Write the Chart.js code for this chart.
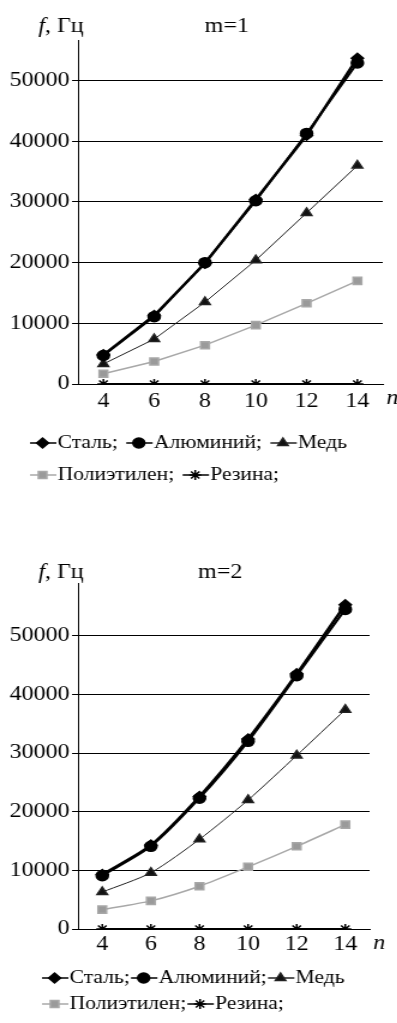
<!DOCTYPE html>
<html>
<head>
<meta charset="utf-8">
<script src="https://cdn.jsdelivr.net/npm/chart.js@4"></script>
<style>
  body { margin: 0; background: #fff; overflow: hidden; }
  .wrap { width: 331px; position: relative; transform: scaleX(1.2); transform-origin: 0 0; }
</style>
</head>
<body>
<div class="wrap" style="height:505px"><canvas id="chartM1"></canvas></div>
<div class="wrap" style="height:518px"><canvas id="chartM2"></canvas></div>
<script>
// n values on the x axis
const nLabels = ['4', '6', '8', '10', '12', '14'];
const yTicks = [0, 10000, 20000, 30000, 40000, 50000];
const seriesNames = ['Сталь;', 'Алюминий;', 'Медь', 'Полиэтилен;', 'Резина;'];

// m = 1
const steelM1 = [4800, 11300, 19900, 30400, 41000, 53700];
const alumM1 = [4700, 11100, 20000, 30200, 41300, 52900];
const copperM1 = [3300, 7400, 13500, 20400, 28200, 36000];
const polyM1 = [1700, 3700, 6400, 9700, 13300, 17000];
const rubberM1 = [0, 0, 0, 0, 0, 0];

// m = 2
const steelM2 = [9300, 14300, 22600, 32400, 43500, 55300];
const alumM2 = [9100, 14100, 22300, 32000, 43200, 54500];
const copperM2 = [6300, 9600, 15300, 22000, 29600, 37400];
const polyM2 = [3300, 4800, 7300, 10600, 14100, 17800];
const rubberM2 = [0, 0, 0, 0, 0, 0];

const SERIF = '"Liberation Serif", "Times New Roman", serif';

// nudge the legend to the right, and draw the short line through each marker
const legendLines = {
    id: 'legendLines',
    afterLayout(chart, args, opts) {
        if (!chart.legend) return;
        chart.legend.left += opts.dx;
        chart.legend.right += opts.dx;
    },
    beforeDraw(chart) {
        const lg = chart.legend;
        if (!lg || !lg.legendHitBoxes) return;
        const ctx = chart.ctx;
        ctx.save();
        lg.legendHitBoxes.forEach((hb, i) => {
            const item = lg.legendItems[i];
            const y = hb.top + hb.height / 2;
            ctx.strokeStyle = item.strokeStyle;
            ctx.lineWidth = 1.5;
            ctx.beginPath();
            ctx.moveTo(hb.left - 7, y);
            ctx.lineTo(hb.left + 15, y);
            ctx.stroke();
        });
        ctx.restore();
    }
};

// axis captions and the m=... heading
const captions = {
    id: 'captions',
    afterDraw(chart, args, opts) {
        const { ctx, chartArea: a } = chart;
        ctx.save();
        ctx.fillStyle = '#000';
        ctx.textBaseline = 'middle';
        const ty = a.top + opts.dy;
        ctx.font = 'italic 20px ' + SERIF;
        ctx.textAlign = 'left';
        const fx = a.left - 33;
        ctx.fillText('f', fx, ty);
        const fw = ctx.measureText('f').width;
        ctx.font = '20px ' + SERIF;
        ctx.fillText(', Гц', fx + fw, ty);
        ctx.textAlign = 'center';
        ctx.fillText(opts.title, (a.left + a.right) / 2 - 3, ty);
        ctx.font = 'italic 20px ' + SERIF;
        ctx.textAlign = 'left';
        ctx.fillText('n', a.right + 3, a.bottom + 15);
        ctx.restore();
    }
};

function makeChart(id, values, opt) {
    const datasets = [
        { label: seriesNames[0], data: values[0], borderColor: '#000', backgroundColor: '#000',
          borderWidth: 2.5, pointStyle: 'rectRot', pointRadius: 5 },
        { label: seriesNames[1], data: values[1], borderColor: '#000', backgroundColor: '#000',
          borderWidth: 2, pointStyle: 'circle', pointRadius: 5 },
        { label: seriesNames[2], data: values[2], borderColor: '#222', backgroundColor: '#111',
          borderWidth: 1, pointStyle: 'triangle', pointRadius: 5 },
        { label: seriesNames[3], data: values[3], borderColor: '#a8a8a8', backgroundColor: '#9a9a9a',
          borderWidth: 1.5, pointStyle: 'rect', pointRadius: 5 },
        { label: seriesNames[4], data: values[4], borderColor: '#000', backgroundColor: '#000',
          borderWidth: 2, pointStyle: 'star', pointRadius: 5 }
    ];
    datasets.forEach(d => { d.tension = opt.tension; d.pointBorderWidth = 1.5; });

    return new Chart(document.getElementById(id), {
        type: 'line',
        data: { labels: nLabels, datasets: datasets },
        options: {
            responsive: true,
            maintainAspectRatio: false,
            animation: false,
            layout: { padding: opt.padding },
            plugins: {
                title: { display: false },
                tooltip: { enabled: false },
                legend: {
                    position: 'bottom',
                    align: 'start',
                    labels: {
                        usePointStyle: true,
                        boxWidth: 7,
                        boxHeight: 7,
                        padding: opt.legendPad,
                        color: '#000',
                        font: { family: SERIF, size: 18 }
                    }
                },
                legendLines: { dx: opt.legendDx },
                captions: { title: opt.title, dy: opt.captionDy }
            },
            scales: {
                x: {
                    offset: true,
                    grid: { display: false, drawTicks: false },
                    border: { display: true, color: '#000', width: 1 },
                    ticks: {
                        color: '#000',
                        padding: 2,
                        font: { family: SERIF, size: 20, lineHeight: opt.xLineHeight }
                    }
                },
                y: {
                    min: 0,
                    max: opt.yMax,
                    afterBuildTicks: scale => {
                        scale.ticks = yTicks.map(v => ({ value: v }));
                    },
                    grid: { color: '#000', lineWidth: 1, tickLength: 5 },
                    border: { display: true, color: '#000', width: 1 },
                    ticks: {
                        autoSkip: false,
                        color: '#000',
                        padding: 2,
                        font: { family: SERIF, size: 20 },
                        callback: v => String(v)
                    }
                }
            }
        },
        plugins: [legendLines, captions]
    });
}

makeChart('chartM1', [steelM1, alumM1, copperM1, polyM1, rubberM1], {
    title: 'm=1', yMax: 56700, tension: 0, legendPad: 14, legendDx: 12, captionDy: -13,
    xLineHeight: 1.6, padding: { top: 40, left: 6, right: 12, bottom: 11 }
});
makeChart('chartM2', [steelM2, alumM2, copperM2, polyM2, rubberM2], {
    title: 'm=2', yMax: 59000, tension: 0.25, legendPad: 8, legendDx: 28, captionDy: -10,
    xLineHeight: 1.4, padding: { top: 78, left: 6, right: 23, bottom: 0 }
});
</script>
</body>
</html>
